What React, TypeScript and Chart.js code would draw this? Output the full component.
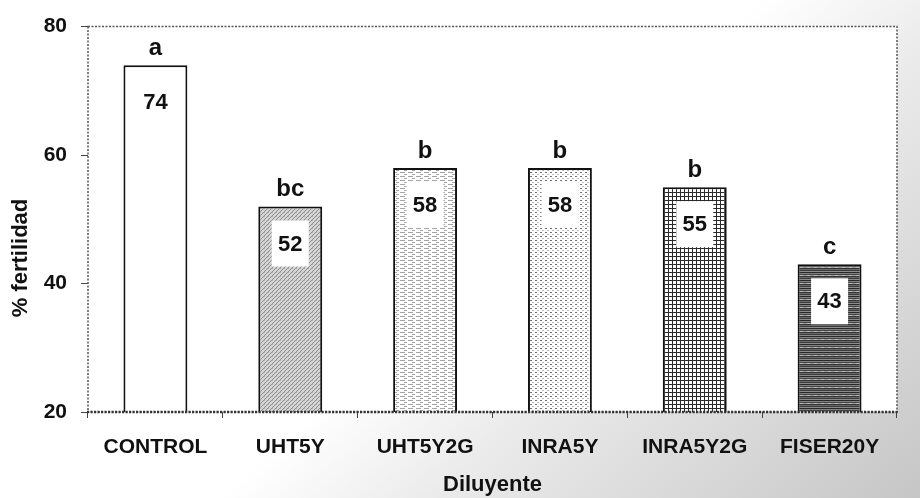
import React, { useEffect, useRef } from "react";
import { Chart, registerables } from "chart.js";
Chart.register(...registerables);

const categories = ["CONTROL", "UHT5Y", "UHT5Y2G", "INRA5Y", "INRA5Y2G", "FISER20Y"];
const fertility = [74, 52, 58, 58, 55, 43];
const groupLetters = ["a", "bc", "b", "b", "b", "c"];
const yTicks = [20, 40, 60, 80];
const patternKinds = ["white", "diag", "dash", "dots", "grid", "stripes"];

const FONT = "'Liberation Sans', Arial, sans-serif";

function makePattern(kind: string): CanvasPattern | string {
  const c = document.createElement("canvas");
  const ctx = c.getContext("2d")!;
  if (kind === "white") return "#ffffff";
  if (kind === "diag") {
    c.width = 4; c.height = 4;
    ctx.fillStyle = "#d6d6d6"; ctx.fillRect(0, 0, 4, 4);
    ctx.fillStyle = "#8a8a8a";
    for (let i = 0; i < 4; i++) ctx.fillRect(i, 3 - i, 1, 1);
    ctx.fillStyle = "#b0b0b0";
    ctx.fillRect(0, 0, 1, 1);
  } else if (kind === "dash") {
    c.width = 8; c.height = 4;
    ctx.fillStyle = "#ffffff"; ctx.fillRect(0, 0, 8, 4);
    ctx.fillStyle = "#a5a5a5";
    ctx.fillRect(0, 0, 5, 1);
    ctx.fillRect(4, 2, 3, 1);
  } else if (kind === "dots") {
    c.width = 5; c.height = 4;
    ctx.fillStyle = "#ffffff"; ctx.fillRect(0, 0, 5, 4);
    ctx.fillStyle = "#707070";
    ctx.fillRect(0, 0, 2, 1);
    ctx.fillStyle = "#bbbbbb";
    ctx.fillRect(2, 2, 2, 1);
  } else if (kind === "grid") {
    c.width = 4; c.height = 4;
    ctx.fillStyle = "#ffffff"; ctx.fillRect(0, 0, 4, 4);
    ctx.fillStyle = "#2a2a2a";
    ctx.fillRect(0, 0, 4, 1);
    ctx.fillRect(0, 0, 1, 4);
  } else {
    c.width = 7; c.height = 8;
    const rows = ["#2a2a2a", "#808080", "#444444", "#9a9a9a", "#333333", "#6a6a6a", "#3a3a3a", "#8c8c8c"];
    rows.forEach((col, i) => { ctx.fillStyle = col; ctx.fillRect(0, i, 7, 1); });
    ctx.fillStyle = "#bbbbbb"; ctx.fillRect(2, 3, 3, 1);
  }
  return ctx.createPattern(c, "repeat")!;
}

const decorPlugin = {
  id: "decor",
  beforeDraw(chart: any) {
    const { ctx, width, height, chartArea } = chart;
    ctx.save();
    const g = ctx.createLinearGradient(600, 150, 920, 498);
    g.addColorStop(0, "#ffffff");
    g.addColorStop(0.3, "#ebebeb");
    g.addColorStop(1, "#c6c6c6");
    ctx.fillStyle = g;
    ctx.fillRect(0, 0, width, height);
    ctx.fillStyle = "#ffffff";
    ctx.fillRect(chartArea.left, chartArea.top, chartArea.right - chartArea.left, chartArea.bottom - chartArea.top);
    ctx.restore();
  },
  afterDatasetsDraw(chart: any) {
    const { ctx, chartArea } = chart;
    const meta = chart.getDatasetMeta(0);
    ctx.save();
    meta.data.forEach((bar: any, i: number) => {
      const bw = 37, bh = 46;
      const bx = bar.x - bw / 2;
      const by = bar.y + 14;
      ctx.fillStyle = "#ffffff";
      ctx.fillRect(bx, by, bw, bh);
      ctx.fillStyle = "#111111";
      ctx.font = `bold 22px ${FONT}`;
      ctx.textAlign = "center";
      ctx.textBaseline = "middle";
      ctx.fillText(String(fertility[i]), bar.x, by + bh / 2 + 1);
      ctx.font = `bold 24px ${FONT}`;
      ctx.textBaseline = "alphabetic";
      ctx.fillText(groupLetters[i], bar.x, bar.y - 10);
    });
    // dotted plot border
    ctx.strokeStyle = "#555555";
    ctx.lineWidth = 1.5;
    ctx.setLineDash([2, 1.5]);
    ctx.strokeRect(chartArea.left, chartArea.top, chartArea.right - chartArea.left, chartArea.bottom - chartArea.top);
    ctx.lineWidth = 2.5;
    ctx.strokeStyle = "#333333";
    ctx.beginPath();
    ctx.moveTo(chartArea.left - 1, chartArea.bottom);
    ctx.lineTo(chartArea.right + 1, chartArea.bottom);
    ctx.stroke();
    ctx.setLineDash([]);
    // y title
    ctx.translate(21, 258);
    ctx.rotate(-Math.PI / 2);
    ctx.fillStyle = "#111111";
    ctx.font = `bold 22px ${FONT}`;
    ctx.textAlign = "center";
    ctx.textBaseline = "middle";
    ctx.fillText("% fertilidad", 0, 0);
    ctx.restore();
  },
};

export default function App() {
  const ref = useRef<HTMLCanvasElement>(null);
  useEffect(() => {
    document.body.style.margin = "0";
    const chart = new Chart(ref.current!, {
      type: "bar",
      data: {
        labels: categories,
        datasets: [
          {
            data: fertility,
            backgroundColor: patternKinds.map(makePattern) as any,
            borderColor: "#111111",
            borderWidth: 2,
            borderSkipped: "start",
            barPercentage: 0.474,
            categoryPercentage: 1,
          },
        ],
      },
      options: {
        animation: false,
        responsive: false,
        layout: { padding: { top: 23, right: 23, left: 0, bottom: 0 } },
        plugins: { legend: { display: false }, tooltip: { enabled: false } },
        scales: {
          x: {
            grid: { drawOnChartArea: false, drawTicks: true, tickLength: 6, color: "#444444", offset: true },
            border: { display: false },
            ticks: { color: "#111111", font: { family: FONT, weight: "bold", size: 21 }, padding: 17, maxRotation: 0 },
            title: { display: true, text: "Diluyente", color: "#111111", font: { family: FONT, weight: "bold", size: 22 }, padding: { top: 0, bottom: 0 } },
            afterFit: (s: any) => { s.height = 86; },
          },
          y: {
            min: 20,
            max: 80,
            grid: { drawOnChartArea: false, drawTicks: true, tickLength: 7, color: "#444444" },
            border: { display: false },
            ticks: { color: "#111111", font: { family: FONT, weight: "bold", size: 21 }, padding: 14, stepSize: 20 },
            afterBuildTicks: (s: any) => { s.ticks = yTicks.map((v) => ({ value: v })); },
            afterFit: (s: any) => { s.width = 88; },
          },
        },
      },
      plugins: [decorPlugin],
    });
    return () => chart.destroy();
  }, []);
  return (
    <div style={{ width: 920, height: 498 }}>
      <canvas ref={ref} width={920} height={498} />
    </div>
  );
}
